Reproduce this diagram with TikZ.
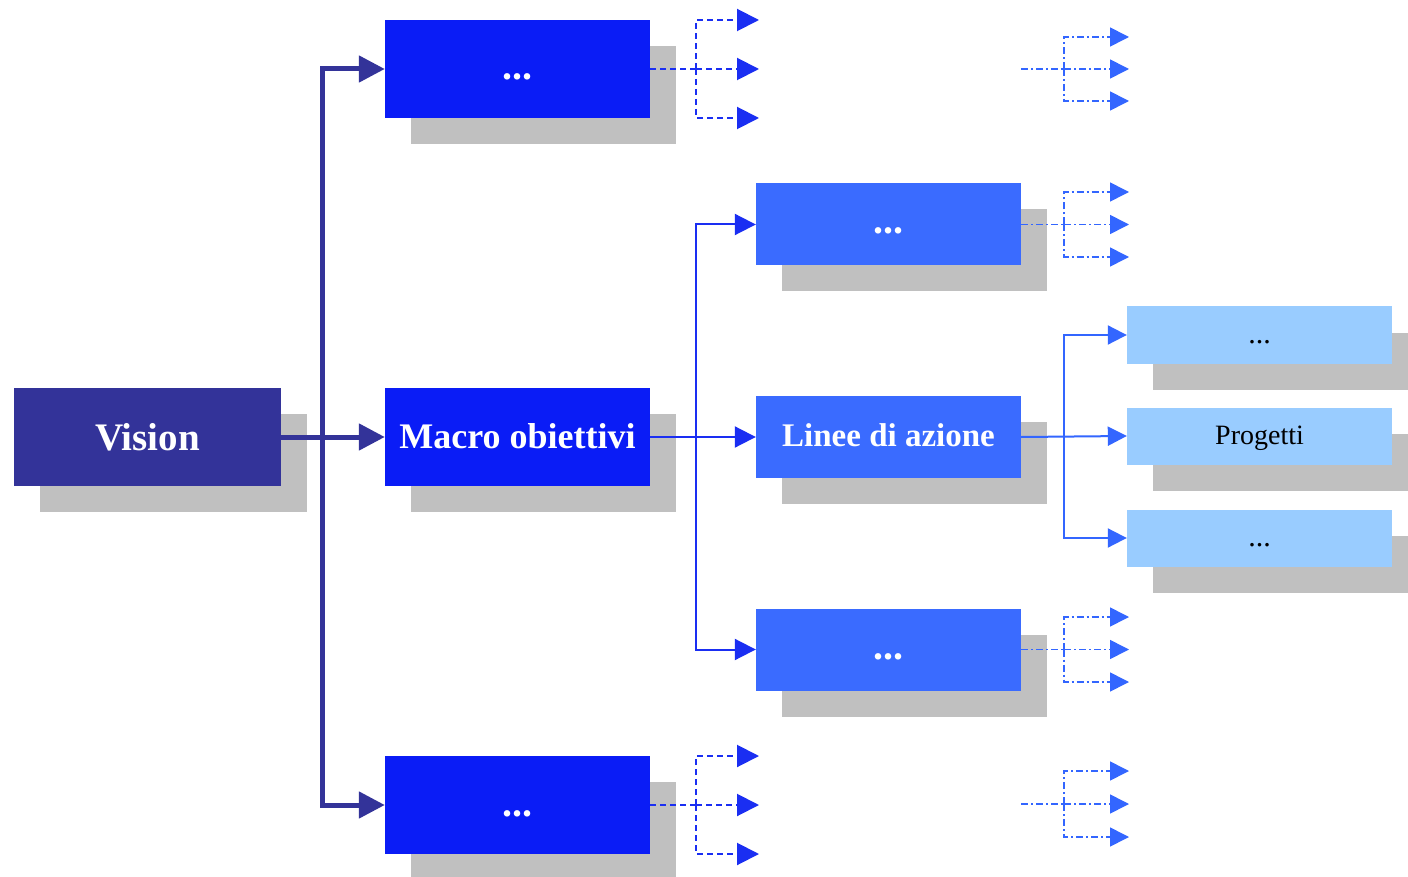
\documentclass[tikz,border=0pt]{standalone}
\usepackage{fontspec}
\setmainfont{Liberation Serif}
\usetikzlibrary{arrows.meta,shadows}
\definecolor{navy}{HTML}{333399}
\definecolor{macroblue}{HTML}{0A1CF6}
\definecolor{lineeblue}{HTML}{3A6BFF}
\definecolor{projblue}{HTML}{99CCFF}
\definecolor{shadowgray}{HTML}{C0C0C0}
\definecolor{linkblue}{HTML}{1A2EF2}
\definecolor{linkblue2}{HTML}{3366FF}
\tikzset{
  box/.style={rectangle, inner sep=0pt, minimum width=265pt,
    copy shadow={shadow xshift=26pt, shadow yshift=-26pt, fill=shadowgray, draw=none}},
  visionbox/.style={box, fill=navy, minimum width=267pt, minimum height=98pt,
    text=white, font=\bfseries\fontsize{39}{44}\selectfont},
  macrobox/.style={box, fill=macroblue, minimum height=98pt,
    text height=26pt, text depth=4pt,
    text=white, font=\bfseries\fontsize{36}{40}\selectfont},
  lineebox/.style={box, fill=lineeblue, minimum height=82pt,
    text height=24pt, text depth=5pt,
    text=white, font=\bfseries\fontsize{33}{38}\selectfont},
  projbox/.style={box, fill=projblue, minimum height=57pt,
    text height=21pt, text depth=5pt,
    text=black, font=\fontsize{28}{32}\selectfont},
  dots/.style={font=\bfseries\fontsize{40}{44}\selectfont},
  pdots/.style={font=\fontsize{30}{34}\selectfont},
  navylink/.style={draw=navy, line width=5pt},
  navyarrow/.style={navylink, -{Triangle[length=26pt,width=26pt]}},
  bluelink/.style={draw=linkblue, line width=2pt},
  bluearrow/.style={bluelink, -{Triangle[length=21pt,width=21pt]}},
  lblink/.style={draw=linkblue2, line width=2pt},
  lbarrow/.style={lblink, -{Triangle[length=19pt,width=19pt]}},
  dashlink/.style={draw=linkblue, line width=2pt, dash pattern=on 6pt off 4pt},
  dasharrow/.style={dashlink, -{Triangle[length=22pt,width=22pt]}},
  ddlink/.style={draw=linkblue2, line width=1.6pt, dash pattern=on 7pt off 3pt on 2pt off 3pt},
  ddarrow/.style={ddlink, -{Triangle[length=19pt,width=19pt]}},
}
\begin{document}
\begin{tikzpicture}[x=1pt,y=-1pt]
\useasboundingbox[fill=white] (0,0) rectangle (1408,877);

% boxes
\node[visionbox] (vision) at (147.5,437) {Vision};
\node[macrobox, dots] (m1) at (517.5,69) {...};
\node[macrobox] (m2) at (517.5,437) {Macro obiettivi};
\node[macrobox, dots] (m3) at (517.5,805) {...};
\node[lineebox, dots] (l1) at (888.5,224.5) {...};
\node[lineebox] (l2) at (888.5,437) {Linee di azione};
\node[lineebox, dots] (l3) at (888.5,649.5) {...};
\node[projbox, pdots] (p1) at (1259.5,335) {...};
\node[projbox] (p2) at (1259.5,436) {Progetti};
\node[projbox, pdots] (p3) at (1259.5,538) {...};

% vision -> macro
\coordinate (j1) at (322,437);
\draw[navyarrow] (vision.east) -- (m2.west);
\draw[navyarrow] (j1) |- (m1.west);
\draw[navyarrow] (j1) |- (m3.west);

% macro -> linee
\coordinate (j2) at (696,437);
\draw[bluearrow] (m2.east) -- (l2.west);
\draw[bluearrow] (j2) |- (l1.west);
\draw[bluearrow] (j2) |- (l3.west);

% linee -> progetti
\coordinate (j3) at (1064,436);
\draw[lbarrow] (l2.east) -- (p2.west);
\draw[lbarrow] (j3) |- (p1.west);
\draw[lbarrow] (j3) |- (p3.west);

% dashed stubs from top macro
\coordinate (d1) at (696,69);
\coordinate (d1a) at (759,20);
\coordinate (d1b) at (759,69);
\coordinate (d1c) at (759,118);
\draw[dashlink] (m1.east) -- (d1);
\draw[dasharrow] (d1) |- (d1a);
\draw[dasharrow] (d1) -- (d1b);
\draw[dasharrow] (d1) |- (d1c);

% dashed stubs from bottom macro
\coordinate (d3) at (696,805);
\coordinate (d3a) at (759,756);
\coordinate (d3b) at (759,805);
\coordinate (d3c) at (759,854);
\draw[dashlink] (m3.east) -- (d3);
\draw[dasharrow] (d3) |- (d3a);
\draw[dasharrow] (d3) -- (d3b);
\draw[dasharrow] (d3) |- (d3c);

% dash-dot stubs from top linee
\coordinate (e1) at (1064,224.5);
\coordinate (e1a) at (1129,192);
\coordinate (e1b) at (1129,224.5);
\coordinate (e1c) at (1129,257);
\draw[ddlink] (l1.east) -- (e1);
\draw[ddarrow] (e1) |- (e1a);
\draw[ddarrow] (e1) -- (e1b);
\draw[ddarrow] (e1) |- (e1c);

% dash-dot stubs from bottom linee
\coordinate (e3) at (1064,649.5);
\coordinate (e3a) at (1129,617);
\coordinate (e3b) at (1129,649.5);
\coordinate (e3c) at (1129,682);
\draw[ddlink] (l3.east) -- (e3);
\draw[ddarrow] (e3) |- (e3a);
\draw[ddarrow] (e3) -- (e3b);
\draw[ddarrow] (e3) |- (e3c);

% far right stubs (top)
\coordinate (f1s) at (1021,69);
\coordinate (f1) at (1064,69);
\coordinate (f1a) at (1129,37);
\coordinate (f1b) at (1129,69);
\coordinate (f1c) at (1129,101);
\draw[ddlink] (f1s) -- (f1);
\draw[ddarrow] (f1) |- (f1a);
\draw[ddarrow] (f1) -- (f1b);
\draw[ddarrow] (f1) |- (f1c);

% far right stubs (bottom)
\coordinate (f3s) at (1021,804);
\coordinate (f3) at (1064,804);
\coordinate (f3a) at (1129,771);
\coordinate (f3b) at (1129,804);
\coordinate (f3c) at (1129,837);
\draw[ddlink] (f3s) -- (f3);
\draw[ddarrow] (f3) |- (f3a);
\draw[ddarrow] (f3) -- (f3b);
\draw[ddarrow] (f3) |- (f3c);
\end{tikzpicture}
\end{document}
